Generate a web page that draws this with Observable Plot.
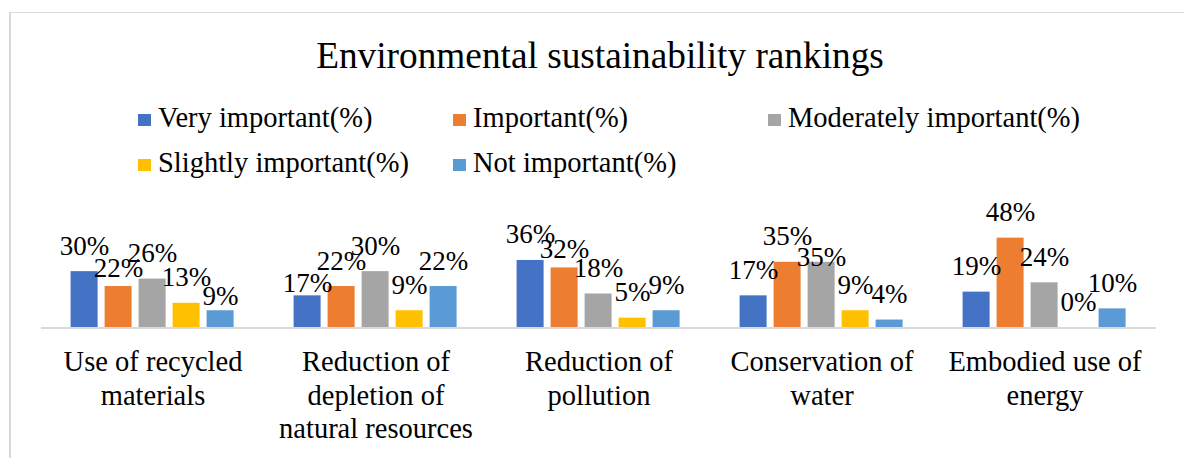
<!DOCTYPE html>
<html>
<head>
<meta charset="utf-8">
<script src="https://cdn.jsdelivr.net/npm/d3@7"></script>
<script src="https://cdn.jsdelivr.net/npm/@observablehq/plot@0.6"></script>
<style>
  body { margin: 0; background: #fff; }
  #chart {
    position: relative; width: 1184px; height: 458px; overflow: hidden;
    font-family: "Liberation Serif", "Times New Roman", serif; color: #000; background: #fff;
  }
  .frame-top { position: absolute; left: 9px; right: 0; top: 12px; height: 1px; background: #d9d9d9; }
  .frame-left { position: absolute; left: 9px; top: 12px; bottom: 0; width: 2px; background: #d9d9d9; }
  .title {
    position: absolute; left: 16px; right: 0; top: 37px;
    font-size: 37.3px; line-height: 37px; text-align: center; white-space: nowrap;
  }
  .swatch { position: absolute; width: 13px; height: 12px; }
  .legend-text { position: absolute; font-size: 28.5px; line-height: 28px; white-space: nowrap; }
  #plot { position: absolute; left: 0; top: 190px; }
</style>
</head>
<body>
<div id="chart">
  <div class="frame-top"></div>
  <div class="frame-left"></div>
  <div class="title">Environmental sustainability rankings</div>
  <div id="legend"></div>
  <div id="plot"></div>
</div>
<script>
// Survey categories and their wrapped axis labels
const categories = [
  "Use of recycled materials",
  "Reduction of depletion of natural resources",
  "Reduction of pollution",
  "Conservation of water",
  "Embodied use of energy"
];
const tickLabels = [
  "Use of recycled\nmaterials",
  "Reduction of\ndepletion of\nnatural resources",
  "Reduction of\npollution",
  "Conservation of\nwater",
  "Embodied use of\nenergy"
];

// Rating levels (series)
const series = [
  "Very important(%)",
  "Important(%)",
  "Moderately important(%)",
  "Slightly important(%)",
  "Not important(%)"
];

// Percentages per category, one array per rating level
const veryImportant       = [30, 17, 36, 17, 19];
const important           = [22, 22, 32, 35, 48];
const moderatelyImportant = [26, 30, 18, 35, 24];
const slightlyImportant   = [13,  9,  5,  9,  0];
const notImportant        = [ 9, 22,  9,  4, 10];

const seriesValues = [veryImportant, important, moderatelyImportant, slightlyImportant, notImportant];
const colors = ["#4472C4", "#ED7D31", "#A5A5A5", "#FFC000", "#5B9BD5"];

const data = categories.flatMap((category, i) =>
  series.map((s, j) => ({category, series: s, value: seriesValues[j][i]}))
);

// Legend: three columns, two rows
const legend = document.getElementById("legend");
series.forEach((s, i) => {
  const col = i % 3, row = Math.floor(i / 3);
  const left = 138 + col * 315;
  const sw = document.createElement("div");
  sw.className = "swatch";
  sw.style.left = left + "px";
  sw.style.top = (114 + row * 45) + "px";
  sw.style.background = colors[i];
  legend.appendChild(sw);
  const tx = document.createElement("div");
  tx.className = "legend-text";
  tx.style.left = (left + 20) + "px";
  tx.style.top = (104 + row * 45) + "px";
  tx.textContent = s;
  legend.appendChild(tx);
});

// Value labels: most sit just above their bar; a few are pulled down
// closer to the bar so neighbouring labels don't collide.
const defaultDy = -17;
const labelDy = new Map([
  ["Use of recycled materials|Important(%)", -10],
  ["Use of recycled materials|Not important(%)", -6],
  ["Reduction of depletion of natural resources|Very important(%)", -4],
  ["Reduction of pollution|Important(%)", -10],
  ["Conservation of water|Moderately important(%)", 4]
]);
const dyOf = d => labelDy.get(d.category + "|" + d.series) ?? defaultDy;
const dyGroups = d3.group(data, dyOf);

const labelMarks = Array.from(dyGroups, ([dy, rows]) =>
  Plot.text(rows, {
    fx: "category", x: "series", y: "value",
    text: d => d.value + "%",
    lineAnchor: "bottom", dy, fontSize: 27, fill: "#000"
  })
);

const chart = Plot.plot({
  width: 1184,
  height: 268,
  marginLeft: 39.4,
  marginRight: 25.4,
  marginTop: 43.9,
  marginBottom: 131,
  style: {fontFamily: "'Liberation Serif', 'Times New Roman', serif", background: "transparent", overflow: "visible"},
  fx: {domain: categories, padding: 0},
  x: {domain: series, paddingInner: 0.21, paddingOuter: 0.87, axis: null},
  y: {domain: [0, 50], axis: null},
  color: {domain: series, range: colors},
  marks: [
    Plot.ruleY([0], {stroke: "#d9d9d9", strokeWidth: 2, dy: 0.5}),
    Plot.barY(data, {fx: "category", x: "series", y: "value", fill: "series"}),
    ...labelMarks,
    Plot.axisFx({
      anchor: "bottom", label: null, tickSize: 0, tickPadding: 20,
      fontSize: 28.5, lineHeight: 1.17, fill: "#000",
      tickFormat: d => tickLabels[categories.indexOf(d)]
    })
  ]
});
document.getElementById("plot").appendChild(chart);
</script>
</body>
</html>
